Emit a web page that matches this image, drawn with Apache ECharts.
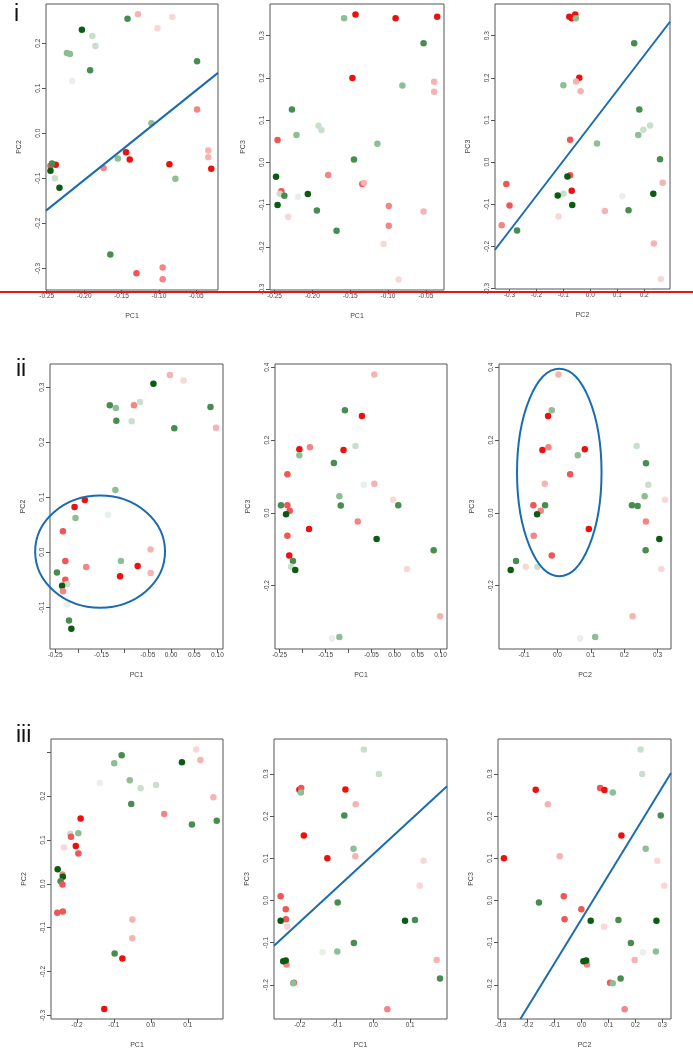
<!DOCTYPE html>
<html>
<head>
<meta charset="utf-8">
<script src="https://cdn.jsdelivr.net/npm/echarts@6/dist/echarts.min.js"></script>
<style>
html,body{margin:0;padding:0;background:#fff;}
#c{width:693px;height:1050px;}
</style>
</head>
<body>
<div id="c"></div>
<script>
// colour levels: 0 dark green ... 4 near-white grey, 5 red ... 9 very light pink
const palette = ['#0b5c12','#478d50','#8fbd94','#cadfcb','#e9efe9','#ec1010','#f05656','#f38585','#f7b2b2','#fad7d7'];

// Row i
const pI1 = [[-0.203,0.230,0],[-0.189,0.216,3],[-0.185,0.194,3],[-0.223,0.178,2],[-0.219,0.176,2],[-0.192,0.140,1],[-0.216,0.116,4],[-0.142,0.254,1],[-0.128,0.264,8],[-0.082,0.258,9],[-0.102,0.233,9],[-0.049,0.160,1],[-0.049,0.053,7],[-0.110,0.022,2],[-0.144,-0.042,5],[-0.139,-0.058,5],[-0.155,-0.056,2],[-0.174,-0.077,7],[-0.086,-0.069,5],[-0.034,-0.038,8],[-0.034,-0.053,8],[-0.030,-0.079,5],[-0.078,-0.101,2],[-0.238,-0.070,5],[-0.245,-0.072,6],[-0.243,-0.067,1],[-0.245,-0.083,0],[-0.239,-0.100,3],[-0.233,-0.121,0],[-0.165,-0.269,1],[-0.130,-0.311,6],[-0.095,-0.298,7],[-0.095,-0.324,7]];
const pI2 = [[-0.143,0.350,5],[-0.158,0.341,2],[-0.090,0.341,5],[-0.035,0.345,5],[-0.053,0.282,1],[-0.147,0.200,5],[-0.039,0.191,8],[-0.039,0.167,8],[-0.081,0.182,2],[-0.227,0.125,1],[-0.221,0.065,2],[-0.192,0.087,3],[-0.188,0.077,3],[-0.114,0.044,2],[-0.246,0.053,6],[-0.145,0.007,1],[-0.179,-0.030,7],[-0.134,-0.051,6],[-0.132,-0.049,8],[-0.248,-0.034,0],[-0.241,-0.068,6],[-0.243,-0.074,3],[-0.237,-0.079,1],[-0.219,-0.081,4],[-0.206,-0.075,0],[-0.246,-0.101,0],[-0.232,-0.129,9],[-0.194,-0.114,1],[-0.168,-0.162,1],[-0.099,-0.103,7],[-0.099,-0.150,7],[-0.106,-0.193,9],[-0.053,-0.116,8],[-0.086,-0.277,9]];
const pI3 = [[-0.078,0.345,5],[-0.069,0.341,5],[-0.056,0.350,5],[-0.054,0.341,2],[0.163,0.282,1],[-0.041,0.200,5],[-0.053,0.191,8],[-0.036,0.168,8],[-0.100,0.182,2],[0.182,0.125,1],[0.178,0.064,2],[0.197,0.077,3],[0.222,0.087,3],[0.025,0.044,2],[-0.075,0.053,6],[0.259,0.007,1],[0.269,-0.049,8],[-0.075,-0.031,6],[-0.085,-0.034,0],[-0.069,-0.068,5],[-0.100,-0.075,3],[-0.121,-0.079,0],[0.119,-0.081,4],[0.234,-0.075,0],[-0.067,-0.102,0],[-0.118,-0.129,9],[0.142,-0.114,1],[-0.272,-0.162,1],[-0.312,-0.052,6],[-0.300,-0.103,6],[-0.329,-0.150,7],[0.054,-0.116,8],[0.236,-0.193,8],[0.262,-0.277,9]];

// Row ii
const pII1 = [[-0.0025,0.322,8],[0.027,0.312,9],[-0.038,0.306,0],[-0.132,0.267,1],[-0.119,0.262,2],[-0.080,0.267,7],[-0.067,0.273,3],[-0.118,0.239,1],[-0.085,0.238,3],[0.085,0.264,1],[0.007,0.225,1],[0.097,0.226,8],[-0.120,0.113,2],[-0.186,0.095,5],[-0.208,0.082,5],[-0.206,0.062,2],[-0.136,0.068,4],[-0.233,0.038,6],[-0.044,0.005,8],[-0.228,-0.016,6],[-0.183,-0.027,7],[-0.108,-0.016,2],[-0.072,-0.025,5],[-0.110,-0.044,5],[-0.044,-0.038,8],[-0.246,-0.037,1],[-0.228,-0.050,6],[-0.224,-0.058,3],[-0.235,-0.061,0],[-0.233,-0.071,7],[-0.224,-0.095,4],[-0.220,-0.124,1],[-0.215,-0.139,0]];
const pII2 = [[-0.044,0.380,8],[-0.108,0.282,1],[-0.071,0.266,5],[-0.085,0.184,3],[-0.184,0.180,7],[-0.207,0.175,5],[-0.111,0.173,5],[-0.207,0.158,2],[-0.132,0.137,1],[-0.233,0.106,6],[-0.067,0.077,4],[-0.044,0.080,8],[-0.120,0.046,2],[-0.117,0.020,1],[-0.003,0.036,9],[0.008,0.021,1],[-0.247,0.021,1],[-0.233,0.021,6],[-0.228,0.006,6],[-0.236,-0.004,0],[-0.080,-0.024,7],[-0.186,-0.044,5],[-0.039,-0.072,0],[-0.233,-0.063,6],[-0.229,-0.117,5],[-0.221,-0.132,1],[-0.225,-0.148,3],[-0.216,-0.157,0],[0.085,-0.103,1],[0.027,-0.154,9],[0.099,-0.284,8],[-0.136,-0.345,4],[-0.120,-0.341,2]];
const pII3 = [[0.003,0.380,8],[-0.017,0.282,2],[-0.028,0.266,5],[-0.027,0.180,7],[-0.045,0.173,5],[0.082,0.175,5],[0.061,0.158,2],[0.038,0.106,6],[-0.038,0.080,8],[-0.072,0.021,6],[-0.037,0.021,1],[-0.050,0.006,7],[-0.061,-0.004,0],[0.094,-0.044,5],[-0.071,-0.063,7],[-0.017,-0.117,6],[-0.124,-0.132,1],[-0.095,-0.148,9],[-0.060,-0.148,3],[-0.140,-0.157,0],[0.237,0.184,3],[0.265,0.136,1],[0.272,0.077,3],[0.261,0.046,2],[0.322,0.036,9],[0.223,0.021,1],[0.240,0.019,1],[0.265,-0.024,7],[0.305,-0.072,0],[0.264,-0.103,1],[0.311,-0.154,9],[0.225,-0.284,8],[0.068,-0.345,4],[0.113,-0.341,2]];

// Row iii
const pIII1 = [[0.1225,0.306,9],[0.134,0.282,8],[-0.079,0.293,1],[-0.099,0.275,2],[0.084,0.277,0],[-0.138,0.230,4],[-0.057,0.236,2],[-0.028,0.218,3],[0.014,0.225,3],[-0.053,0.182,1],[0.169,0.197,8],[0.036,0.159,7],[0.111,0.135,1],[0.178,0.144,1],[-0.190,0.149,5],[-0.218,0.114,3],[-0.196,0.115,2],[-0.216,0.107,6],[-0.235,0.083,9],[-0.203,0.086,5],[-0.196,0.069,6],[-0.252,0.033,0],[-0.239,0.021,7],[-0.238,0.016,0],[-0.244,0.006,1],[-0.239,-0.0015,6],[-0.253,-0.066,6],[-0.238,-0.063,6],[-0.050,-0.081,8],[-0.050,-0.124,8],[-0.098,-0.159,1],[-0.077,-0.170,5],[-0.126,-0.285,5]];
const pIII2 = [[-0.026,0.358,3],[0.015,0.300,3],[-0.201,0.2625,5],[-0.196,0.267,6],[-0.197,0.256,2],[-0.076,0.263,5],[-0.048,0.228,8],[-0.079,0.2016,1],[-0.189,0.154,5],[-0.125,0.100,5],[-0.054,0.123,2],[-0.049,0.105,8],[0.136,0.0945,9],[0.126,0.035,9],[-0.252,0.010,6],[-0.238,-0.021,6],[-0.2375,-0.0445,6],[-0.252,-0.048,0],[-0.234,-0.0625,9],[-0.097,-0.005,1],[-0.053,-0.101,1],[0.086,-0.048,0],[0.113,-0.046,1],[-0.138,-0.123,4],[-0.098,-0.121,2],[-0.236,-0.152,7],[-0.245,-0.144,0],[-0.238,-0.142,0],[-0.216,-0.195,6],[-0.218,-0.196,2],[0.172,-0.141,8],[0.181,-0.185,1],[0.038,-0.258,7]];
const pIII3 = [[0.219,0.358,3],[0.225,0.300,3],[-0.170,0.2625,5],[0.069,0.267,6],[0.085,0.262,5],[0.116,0.256,2],[-0.125,0.228,8],[0.294,0.2016,1],[0.148,0.154,5],[0.238,0.123,2],[-0.288,0.100,5],[-0.081,0.105,8],[0.281,0.0945,9],[0.307,0.035,9],[-0.066,0.010,6],[-0.158,-0.005,1],[-0.0006,-0.021,6],[-0.063,-0.0445,6],[0.034,-0.048,0],[0.137,-0.046,1],[0.084,-0.0625,9],[0.278,-0.048,0],[0.183,-0.101,1],[0.228,-0.123,4],[0.276,-0.121,2],[0.020,-0.152,7],[0.007,-0.144,0],[0.017,-0.142,0],[0.197,-0.141,8],[0.106,-0.195,6],[0.116,-0.196,2],[0.145,-0.185,1],[0.160,-0.258,7]];

// tick values
const xtI12 = [-0.25,-0.20,-0.15,-0.10,-0.05];
const xtI3 = [-0.3,-0.2,-0.1,0.0,0.1,0.2];
const ytI1 = [-0.3,-0.2,-0.1,0.0,0.1,0.2];
const ytI23 = [-0.3,-0.2,-0.1,0.0,0.1,0.2,0.3];
const xtII12 = [-0.25,-0.20,-0.15,-0.10,-0.05,0.00,0.05,0.10];
const xlII12 = [-0.25,-0.15,-0.05,0.00,0.05,0.10];
const xtII3 = [-0.1,0.0,0.1,0.2,0.3];
const ytII1 = [-0.1,0.0,0.1,0.2,0.3];
const ytII23 = [-0.2,0.0,0.2,0.4];
const xtIII12 = [-0.2,-0.1,0.0,0.1];
const xtIII3 = [-0.3,-0.2,-0.1,0.0,0.1,0.2,0.3];
const ytIII1 = [-0.3,-0.2,-0.1,0.0,0.1,0.2,0.3];
const ylIII1 = [-0.3,-0.2,-0.1,0.0,0.1,0.2];
const ytIII23 = [-0.2,-0.1,0.0,0.1,0.2,0.3];

// fitted lines [intercept, slope]
const lineI1 = [0.162, 1.330];
const lineI3 = [0.0866, 0.832];
const lineIII2 = [0.110, 0.804];
const lineIII3 = [-0.044, 1.044];

// ellipses [cx, cy, rx, ry]
const ellII1 = [-0.153, 0.001, 0.140, 0.102];
const ellII3 = [0.0055, 0.111, 0.1265, 0.285];

const panels = [
  {data:pI1, left:46, top:4, width:172, height:286, xr:[-0.251,-0.021], yr:[-0.348,0.287], xt:xtI12, yt:ytI1, xd:2, yd:1, xn:'PC1', yn:'PC2', line:lineI1},
  {data:pI2, left:270, top:4, width:174, height:286, xr:[-0.256,-0.026], yr:[-0.302,0.375], xt:xtI12, yt:ytI23, xd:2, yd:1, xn:'PC1', yn:'PC3'},
  {data:pI3, left:495, top:4, width:175, height:285, xr:[-0.354,0.296], yr:[-0.301,0.375], xt:xtI3, yt:ytI23, xd:1, yd:1, xn:'PC2', yn:'PC3', line:lineI3},
  {data:pII1, left:50, top:364, width:173, height:285, xr:[-0.261,0.112], yr:[-0.176,0.342], xt:xtII12, xl:xlII12, yt:ytII1, xd:2, yd:1, xn:'PC1', yn:'PC2', ell:ellII1},
  {data:pII2, left:275, top:364, width:172, height:285, xr:[-0.260,0.114], yr:[-0.374,0.409], xt:xtII12, xl:xlII12, yt:ytII23, xd:2, yd:1, xn:'PC1', yn:'PC3'},
  {data:pII3, left:499, top:364, width:172, height:285, xr:[-0.175,0.340], yr:[-0.374,0.409], xt:xtII3, yt:ytII23, xd:1, yd:1, xn:'PC2', yn:'PC3', ell:ellII3},
  {data:pIII1, left:51, top:739, width:172, height:284, xr:[-0.270,0.195], yr:[-0.308,0.330], xt:xtIII12, yt:ytIII1, yl:ylIII1, xd:1, yd:1, xn:'PC1', yn:'PC2'},
  {data:pIII2, left:274, top:739, width:173, height:284, xr:[-0.270,0.200], yr:[-0.281,0.383], xt:xtIII12, yt:ytIII23, xd:1, yd:1, xn:'PC1', yn:'PC3', line:lineIII2},
  {data:pIII3, left:498, top:739, width:173, height:284, xr:[-0.310,0.332], yr:[-0.281,0.383], xt:xtIII3, yt:ytIII23, xd:1, yd:1, xn:'PC2', yn:'PC3', line:lineIII3}
];

const FONT = 'Liberation Sans, Arial, sans-serif';
const BLUE = '#1b6cae';

function lineEnds(ab, xr, yr){
  const a = ab[0], b = ab[1];
  function clampPt(x){
    let y = a + b*x;
    if (y < yr[0]) { y = yr[0]; x = (y - a)/b; }
    if (y > yr[1]) { y = yr[1]; x = (y - a)/b; }
    return [x, y];
  }
  return [clampPt(xr[0]), clampPt(xr[1])];
}

const grid=[], xAxis=[], yAxis=[], series=[];
panels.forEach((p,i)=>{
  grid.push({left:p.left, top:p.top, width:p.width, height:p.height, show:true, borderColor:'#555', borderWidth:1, backgroundColor:'rgba(0,0,0,0)'});
  xAxis.push({type:'value', gridIndex:i, position:'bottom', min:p.xr[0], max:p.xr[1], name:p.xn, nameLocation:'middle', nameGap:23,
    nameTextStyle:{fontSize:7, color:'#444', fontFamily:FONT},
    axisLine:{show:false, onZero:false}, splitLine:{show:false},
    axisTick:{show:true, length:4, customValues:p.xt, lineStyle:{color:'#555', width:1}},
    axisLabel:{customValues:p.xl||p.xt, formatter:v=>v.toFixed(p.xd), fontSize:6.5, color:'#444', margin:3, fontFamily:FONT}});
  yAxis.push({type:'value', gridIndex:i, position:'left', min:p.yr[0], max:p.yr[1], name:p.yn, nameLocation:'middle', nameGap:23, nameRotate:90,
    nameTextStyle:{fontSize:7, color:'#444', fontFamily:FONT},
    axisLine:{show:false, onZero:false}, splitLine:{show:false},
    axisTick:{show:true, length:4, customValues:p.yt, lineStyle:{color:'#555', width:1}},
    axisLabel:{customValues:p.yl||p.yt, formatter:v=>v.toFixed(p.yd), rotate:90, fontSize:6.5, color:'#444', margin:4, fontFamily:FONT}});
  series.push({type:'scatter', xAxisIndex:i, yAxisIndex:i, data:p.data, symbolSize:6.5,
    itemStyle:{color:params=>palette[params.data[2]], opacity:1},
    emphasis:{disabled:true}, silent:true});
  if (p.line){
    series.push({type:'line', xAxisIndex:i, yAxisIndex:i, data:lineEnds(p.line, p.xr, p.yr), symbol:'none',
      lineStyle:{color:BLUE, width:2}, silent:true, z:3});
  }
  if (p.ell){
    series.push({type:'custom', xAxisIndex:i, yAxisIndex:i, data:[p.ell], clip:false, silent:true, z:3,
      renderItem:(params, api)=>{
        const c = api.coord([api.value(0), api.value(1)]);
        const s = api.size([api.value(2), api.value(3)]);
        return {type:'ellipse', shape:{cx:c[0], cy:c[1], rx:s[0], ry:s[1]},
          style:{fill:null, stroke:BLUE, lineWidth:2}};
      }});
  }
});

const chart = echarts.init(document.getElementById('c'));
chart.setOption({
  animation:false,
  backgroundColor:'#fff',
  grid, xAxis, yAxis, series,
  graphic:[
    {type:'line', shape:{x1:0, y1:292, x2:693, y2:292}, style:{stroke:'#e0191e', lineWidth:2}, z:100},
    {type:'text', left:14, top:3, style:{text:'i', fontSize:23, fontFamily:FONT, fill:'#111'}},
    {type:'text', left:16, top:358, style:{text:'ii', fontSize:23, fontFamily:FONT, fill:'#111'}},
    {type:'text', left:16, top:724, style:{text:'iii', fontSize:23, fontFamily:FONT, fill:'#111'}}
  ]
});
</script>
</body>
</html>
